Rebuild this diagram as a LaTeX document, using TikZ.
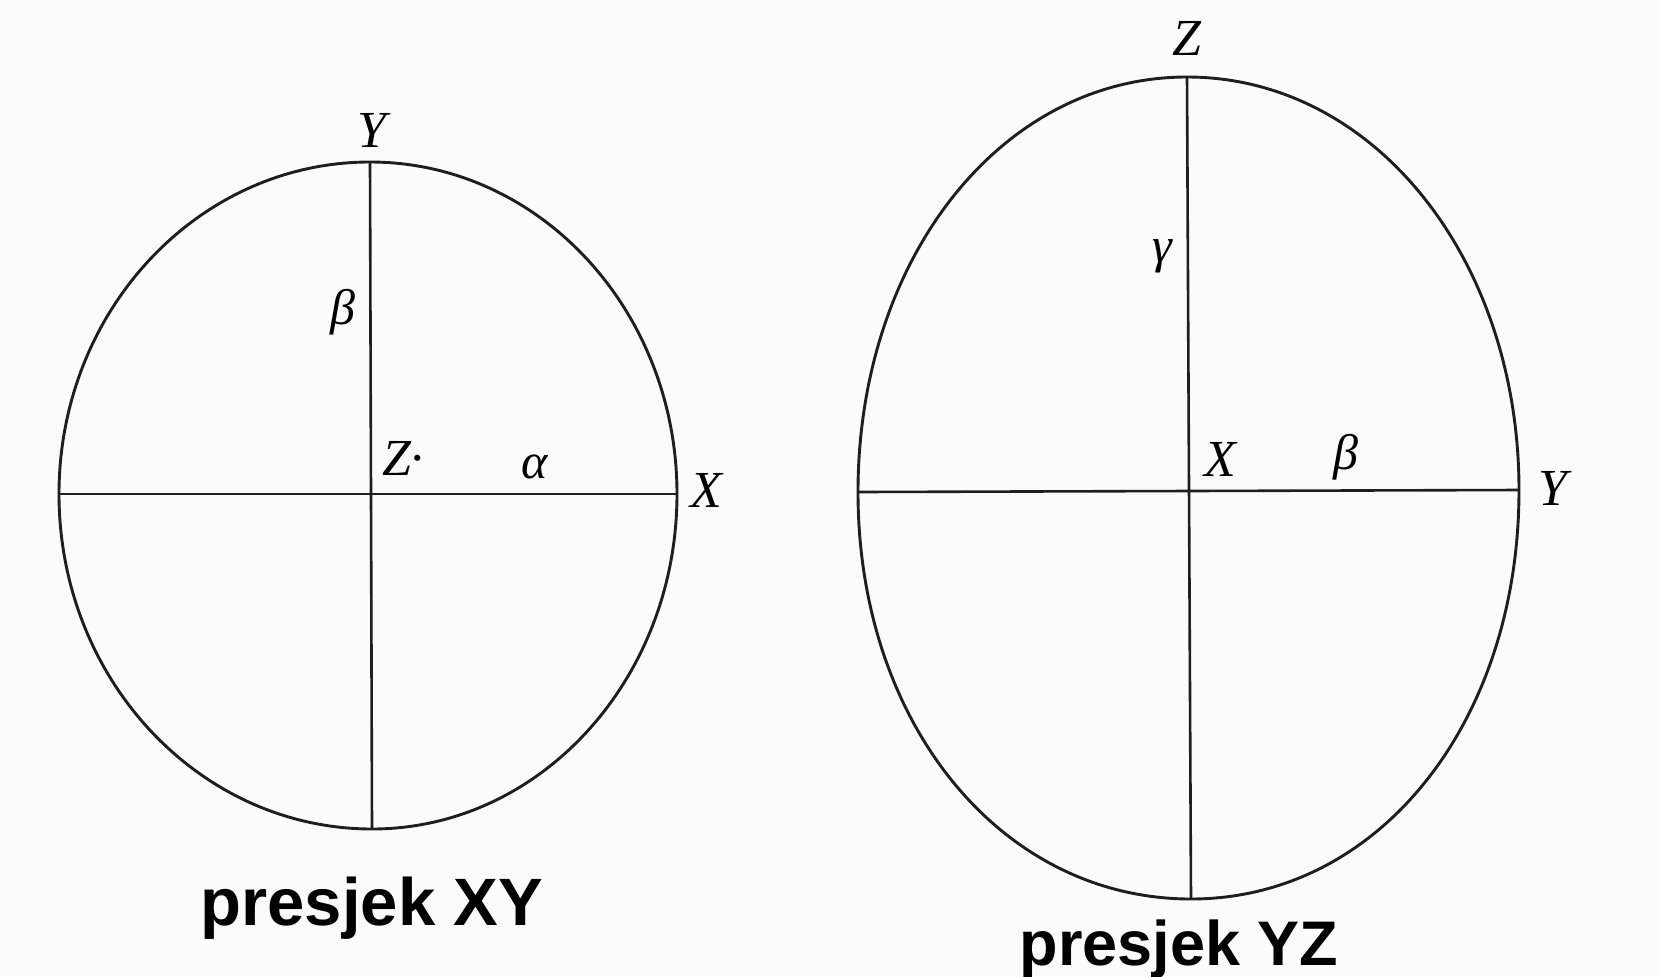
\documentclass[tikz,border=0pt]{standalone}
\usepackage{fontspec}
\setmainfont{Liberation Serif}
\newfontfamily\capsans{Liberation Sans}
\definecolor{inkline}{HTML}{1E1E1E}
\definecolor{paper}{HTML}{FBFBFB}
\begin{document}
\begin{tikzpicture}[x=0.5pt,y=-0.5pt,
  outline/.style={draw=inkline,line width=1.45pt},
  axisline/.style={draw=inkline,line width=1.3pt},
  lbl/.style={inner sep=0pt,outer sep=0pt,font=\fontsize{26}{30}\selectfont\itshape},
  glbl/.style={inner sep=0pt,outer sep=0pt,font=\fontsize{25}{30}\selectfont\itshape},
  title/.style={inner sep=0pt,outer sep=0pt,anchor=base}]
\fill[paper] (0,0) rectangle (1661,976);
\useasboundingbox (0,0) rectangle (1661,976);
% left section XY
\coordinate (lT) at (370,162);
\coordinate (lR) at (677,494);
\coordinate (lB) at (372,829);
\coordinate (lL) at (59,494);
\draw[outline] (lT) .. controls (539.6,162) and (677,310.6) .. (lR)
  .. controls (677,679) and (540.5,829) .. (lB)
  .. controls (199.1,829) and (59,679) .. (lL)
  .. controls (59,310.6) and (198.2,162) .. (lT) -- cycle;
\draw[axisline] (lL) -- (lR);
\draw[axisline] (lT) -- (lB);
% right section YZ
\coordinate (rT) at (1187,77);
\coordinate (rR) at (1519,490);
\coordinate (rB) at (1191,899);
\coordinate (rL) at (858,492);
\draw[outline] (rT) .. controls (1375,77) and (1519,260) .. (rR)
  .. controls (1519,723.6) and (1378,899) .. (rB)
  .. controls (1001.2,899) and (858,723.6) .. (rL)
  .. controls (858,260) and (1000,77) .. (rT) -- cycle;
\draw[axisline] (rL) -- (rR);
\draw[axisline] (rT) -- (rB);
% labels left
\node[lbl] (lY) at (372,130) {Y};
\node[glbl] (lbeta) at (343,312) {β};
\node[lbl,anchor=base west] (lZ) at (382,475) {Z·};
\node[glbl] (lalpha) at (535,467) {α};
\node[lbl] (lX) at (706,490) {X};
% labels right
\node[lbl] (rZ) at (1187,38) {Z};
\node[glbl] (rgamma) at (1162,256) {γ};
\node[lbl] (rX) at (1220,459) {X};
\node[glbl] (rbeta) at (1346,457) {β};
\node[lbl] (rY) at (1553,488) {Y};
% titles
\node[title,font=\capsans\bfseries\fontsize{33.5}{38}\selectfont] (tXY) at (372,925) {presjek XY};
\node[title,font=\capsans\bfseries\fontsize{31.5}{36}\selectfont] (tYZ) at (1179,965) {presjek YZ};
\end{tikzpicture}
\end{document}
